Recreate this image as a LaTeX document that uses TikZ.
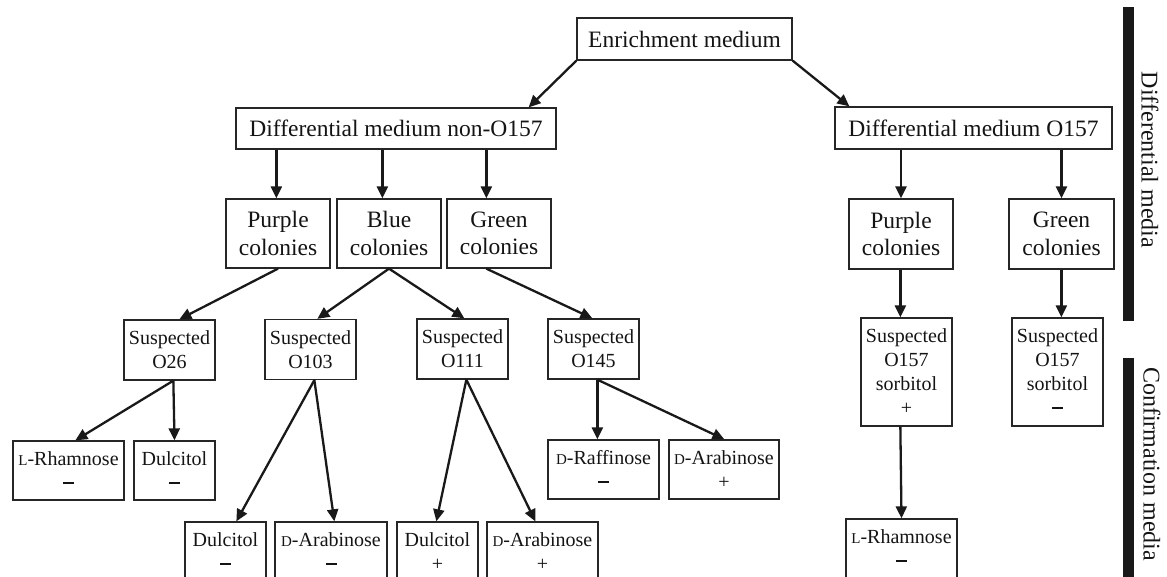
\documentclass[tikz,border=0pt]{standalone}
\usepackage{fontspec}
\setmainfont{Liberation Serif}
\usetikzlibrary{arrows.meta}
\newcommand{\smc}[1]{{\fontsize{15}{15}\selectfont #1}}
\newcommand{\mns}{\rule[5.5pt]{11pt}{2.2pt}}
\begin{document}
\begin{tikzpicture}[x=1pt,y=-1pt,
  box/.style={draw=black!85, line width=1.3pt, align=center, inner sep=0pt, text=black!92},
  big/.style={box, font=\fontsize{23.5}{27.5}\selectfont},
  sml/.style={box, font=\fontsize{20}{24}\selectfont},
  arr/.style={line width=2.3pt, draw=black!90, -{Triangle[length=12pt,width=11pt]}},
  bar/.style={fill=black!90, draw=none},
  side/.style={rotate=-90, font=\fontsize{24}{28}\selectfont, text=black!92}]
\useasboundingbox (0,0) rectangle (1167,577);
\clip (0,0) rectangle (1167,577);
% level 0-1
\node[big, minimum width=215pt, minimum height=42pt] (enr) at (684.5,39) {Enrichment medium};
\node[big, minimum width=320pt, minimum height=41pt] (dn) at (396,128.5) {Differential medium non-O157};
\node[big, minimum width=277pt, minimum height=42pt] (do) at (973.5,128) {Differential medium O157};
% colonies
\node[big, minimum width=104pt, minimum height=69pt] (p1) at (278,233.5) {Purple\\colonies};
\node[big, minimum width=104pt, minimum height=69pt] (b) at (389,233.5) {Blue\\colonies};
\node[big, minimum width=104pt, minimum height=69pt] (g1) at (499,233.5) {Green\\colonies};
\node[big, minimum width=104pt, minimum height=70pt] (p2) at (901,234) {Purple\\colonies};
\node[big, minimum width=105pt, minimum height=70pt] (g2) at (1061.5,234) {Green\\colonies};
% suspected
\node[sml, minimum width=91pt, minimum height=60pt] (s26) at (169.5,350) {Suspected\\O26};
\node[sml, minimum width=91pt, minimum height=60pt] (s103) at (310.5,349.5) {Suspected\\O103};
\node[sml, minimum width=91pt, minimum height=60pt] (s111) at (462.5,349) {Suspected\\O111};
\node[sml, minimum width=91pt, minimum height=60pt] (s145) at (593.5,349) {Suspected\\O145};
\node[sml, minimum width=91pt, minimum height=108pt] (sop) at (906.5,372) {Suspected\\O157\\sorbitol\\+};
\node[sml, minimum width=91pt, minimum height=108pt] (som) at (1057.5,372) {Suspected\\O157\\sorbitol\\\mns};
% confirmation
\node[sml, minimum width=111pt, minimum height=59pt] (r1) at (68.5,470.5) {\smc{L}-Rhamnose\\\mns};
\node[sml, minimum width=81pt, minimum height=59pt] (d1) at (174.5,470.5) {Dulcitol\\\mns};
\node[sml, minimum width=111pt, minimum height=59pt] (raf) at (603.5,469.5) {\smc{D}-Raffinose\\\mns};
\node[sml, minimum width=110pt, minimum height=59pt] (ara1) at (724,469.5) {\smc{D}-Arabinose\\+};
\node[sml, minimum width=81pt, minimum height=60pt] (d2) at (225.5,552) {Dulcitol\\\mns};
\node[sml, minimum width=112pt, minimum height=60pt] (ara2) at (331,552) {\smc{D}-Arabinose\\\mns};
\node[sml, minimum width=81pt, minimum height=60pt] (d3) at (437.5,552) {Dulcitol\\+};
\node[sml, minimum width=111pt, minimum height=60pt] (ara3) at (542.5,552) {\smc{D}-Arabinose\\+};
\node[sml, minimum width=111pt, minimum height=60pt] (r2) at (901.5,549) {\smc{L}-Rhamnose\\\mns};
% connectors
\draw[arr] (enr.south west) -- ([xshift=-28pt]dn.north east);
\draw[arr] (enr.south east) -- ([xshift=15pt]do.north west);
\draw[arr] ([xshift=41pt]dn.south west) -- ([xshift=51pt]p1.north west);
\draw[arr] ([xshift=147pt]dn.south west) -- ([xshift=46pt]b.north west);
\draw[arr] ([xshift=251pt]dn.south west) -- ([xshift=40pt]g1.north west);
\draw[arr] (p2.north |- do.south) -- (p2.north);
\draw[arr] (g2.north |- do.south) -- (g2.north);
\draw[arr] (p1.south) -- ([xshift=56pt]s26.north west);
\draw[arr] (b.south) -- ([xshift=53pt]s103.north west);
\draw[arr] (b.south) -- ([xshift=48pt]s111.north west);
\draw[arr] ([xshift=40pt]g1.south west) -- ([xshift=45pt]s145.north west);
\draw[arr] ([xshift=50pt]s26.south west) -- ([xshift=63pt]r1.north west);
\draw[arr] ([xshift=50pt]s26.south west) -- (d1.north);
\draw[arr] ([xshift=50pt]s103.south west) -- ([xshift=52pt]d2.north west);
\draw[arr] ([xshift=50pt]s103.south west) -- ([xshift=60pt]ara2.north west);
\draw[arr] ([xshift=50pt]s111.south west) -- ([xshift=40pt]d3.north west);
\draw[arr] ([xshift=50pt]s111.south west) -- ([xshift=49pt]ara3.north west);
\draw[arr] ([xshift=50pt]s145.south west) -- ([xshift=50pt]raf.north west);
\draw[arr] ([xshift=50pt]s145.south west) -- ([xshift=56pt]ara1.north west);
\draw[arr] ([xshift=40pt]sop.north west |- p2.south) -- ([xshift=40pt]sop.north west);
\draw[arr] ([xshift=50pt]som.north west |- g2.south) -- ([xshift=50pt]som.north west);
\draw[arr] ([xshift=40pt]sop.south west) -- (r2.north);
% side bars
\fill[bar] (1123,7) rectangle (1134,321);
\fill[bar] (1123,358) rectangle (1134,580);
\node[side] (lab1) at (1150,160) {Differential media};
\node[side] (lab2) at (1152,464) {Confirmation media};
\end{tikzpicture}
\end{document}
